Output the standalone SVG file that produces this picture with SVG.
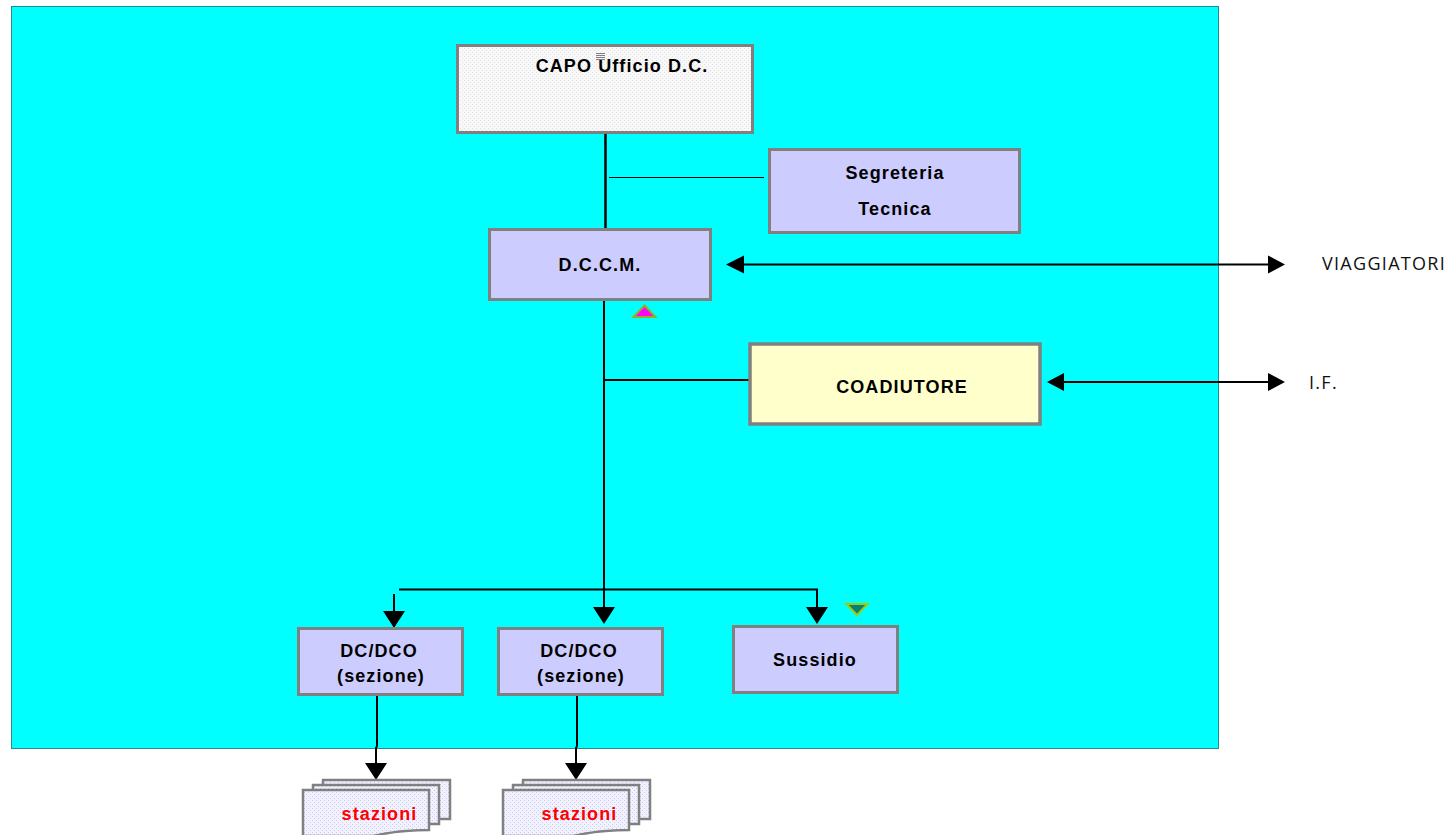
<svg xmlns="http://www.w3.org/2000/svg" width="1452" height="835" viewBox="0 0 1452 835">
<style>
.box{stroke:#808080;stroke-width:3}
.lav{fill:#ccccff}
.t{font-family:"Liberation Sans",Arial,sans-serif;font-size:18px;font-weight:bold;fill:#000;text-anchor:middle;letter-spacing:1.1px}
.o{font-family:"Open Sans","Liberation Sans",sans-serif;font-size:18px;letter-spacing:1.3px;fill:#111}
.r{fill:#f00}
.l{stroke:#000;fill:none}
.doc{fill:url(#d);stroke:#808080;stroke-width:2.500}
</style>
<defs>
<pattern id="g" width="4" height="4" patternUnits="userSpaceOnUse"><rect width="4" height="4" fill="#f8f8f8"/><rect width="1" height="1" fill="#e2e2e2"/><rect x="2" y="2" width="1" height="1" fill="#e2e2e2"/></pattern>
<pattern id="d" width="4" height="4" patternUnits="userSpaceOnUse"><rect width="4" height="4" fill="#f2f2ff"/><rect width="1" height="1" fill="#c8c8f0"/><rect x="2" y="2" width="1" height="1" fill="#c8c8f0"/></pattern>
<g id="stack">
<path class="doc" d="M43 780H170V819H43Z"/>
<path class="doc" d="M33 785H159V824H33Z"/>
<path class="doc" d="M23 790H149V830C125 830 110 832 93 836H23Z"/>
</g>
</defs>
<rect width="1452" height="835" fill="#fff"/>
<rect id="background" x="11.500" y="6.500" width="1207" height="742" fill="#00ffff" stroke="#2a8a8a"/>
<g id="connectors">
<path class="l" stroke-width="2.500" d="M605.500 133V229"/>
<path class="l" d="M609 177.500H764"/>
<path class="l" stroke-width="2" d="M604 298V610M604 380H749M399 589.500H818M817 589V610M394 594V620"/>
<path class="l" stroke-width="2" d="M377 695V746L376 748V766M577 695V746L576 748V766"/>
<path class="l" stroke-width="2" d="M740 264.500H1272M1060 382H1272"/>
<path d="M726 264.500L744 255.500V273.500ZM1285 264.500L1268 255.500V273.500ZM1047 382L1064 373V391ZM1285 382L1268 373V391ZM383 611H405L394 628ZM593 607H615L604 624ZM806 607H828L817 624ZM365 763H387L376 780ZM565 763H587L576 780Z"/>
</g>
<g id="capo"><rect class="box" x="457.500" y="45.500" width="295" height="87" fill="url(#g)"/><text class="t" x="622" y="72">CAPO Ufficio D.C.</text>
<path d="M596 53.500H605M596 55.500H605M596 57.500H605M596 59.500H605" stroke="#808080"/></g>
<g id="segreteria"><rect class="box lav" x="769.500" y="149.500" width="250" height="83"/><text class="t" x="895" y="179">Segreteria</text><text class="t" x="895" y="215">Tecnica</text></g>
<g id="dccm"><rect class="box lav" x="489.500" y="229.500" width="221" height="70"/><text class="t" x="600" y="271">D.C.C.M.</text></g>
<g id="coadiutore"><rect x="750" y="344" width="290" height="80" fill="#ffffcc" stroke="#808080" stroke-width="3.500"/><text class="t" x="902" y="393">COADIUTORE</text></g>
<g id="dc1"><rect class="box lav" x="298.500" y="628.500" width="164" height="66"/><text class="t" x="379" y="657">DC/DCO</text><text class="t" x="381" y="682">(sezione)</text></g>
<g id="dc2"><rect class="box lav" x="498.500" y="628.500" width="164" height="66"/><text class="t" x="579" y="657">DC/DCO</text><text class="t" x="581" y="682">(sezione)</text></g>
<g id="sussidio"><rect class="box lav" x="733.500" y="626.500" width="164" height="66"/><text class="t" x="815" y="666">Sussidio</text></g>
<g id="stazioni1"><use href="#stack" x="280"/><text class="t r" x="379.500" y="820">stazioni</text></g>
<g id="stazioni2"><use href="#stack" x="480"/><text class="t r" x="579.500" y="820">stazioni</text></g>
<text class="o" x="1322" y="270">VIAGGIATORI</text>
<text class="o" x="1309" y="389">I.F.</text>
<path id="up" d="M644.500 305.500L655.500 317H633.500Z" fill="#ff00ff" stroke="#8fb020" stroke-width="2"/>
<path id="down" d="M857 615L867.500 604H846.500Z" fill="#008080" stroke="#a8c800" stroke-width="2"/>
</svg>
